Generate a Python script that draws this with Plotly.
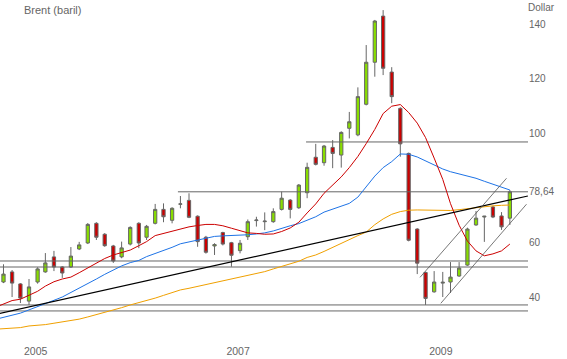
import plotly.graph_objects as go
import pandas as pd

# ---- data ----
months = pd.date_range("2004-10-01", periods=61, freq="MS")
opens = [45.6, 49.3, 44.9, 38.6, 45.6, 49.3, 54.8, 51.1, 51.1, 57.7,
         59.9, 67.1, 63.1, 58.8, 54.8, 59.5, 67.1, 62.0, 67.1, 72.2,
         68.2, 74.1, 75.5, 69.7, 62.0, 58.8, 63.7, 60.0, 57.1, 62.2,
         68.1, 67.7, 67.7, 72.2, 75.6, 72.8, 78.3, 91.3, 89.3, 94.9,
         92.1, 101.9, 99.5, 110.7, 126.1, 143.0, 122.5, 109.2, 92.7, 65.0,
         49.1, 42.0, 45.2, 45.6, 47.8, 51.8, 66.5, 69.4, 73.1, 69.8,
         69.0]
highs = [52.1, 50.0, 45.2, 46.7, 51.0, 56.2, 57.0, 51.4, 58.4, 60.3,
         67.2, 67.5, 63.5, 59.2, 60.4, 66.0, 67.5, 66.5, 74.2, 74.4,
         73.0, 77.1, 78.1, 70.0, 62.5, 59.8, 64.0, 60.3, 61.0, 68.5,
         69.5, 71.1, 72.6, 78.7, 76.0, 81.5, 89.3, 96.2, 95.8, 97.6,
         100.8, 107.9, 116.9, 132.4, 141.6, 145.2, 124.3, 109.6, 93.0, 65.3,
         49.4, 49.6, 49.3, 52.9, 52.9, 65.5, 71.6, 69.8, 73.5, 71.2,
         79.3]
lows = [45.2, 40.1, 37.9, 37.2, 45.0, 49.0, 49.6, 47.1, 50.8, 57.3,
        59.5, 61.0, 58.5, 52.6, 54.3, 59.0, 58.0, 61.0, 66.7, 67.5,
        67.1, 72.6, 69.0, 58.5, 56.0, 55.5, 59.0, 51.2, 56.1, 61.0,
        65.9, 64.6, 67.3, 71.8, 68.9, 72.4, 76.3, 88.3, 88.2, 87.3,
        87.5, 98.2, 99.0, 110.3, 120.8, 121.4, 111.1, 91.5, 60.5, 48.5,
        37.2, 41.7, 40.1, 41.6, 47.5, 51.5, 66.2, 60.3, 69.0, 64.7,
        66.5]
closes = [48.5, 45.2, 39.7, 43.8, 50.4, 52.6, 51.1, 48.9, 55.1, 59.2,
          66.7, 62.0, 58.9, 53.3, 58.1, 65.6, 59.9, 66.0, 72.2, 69.5,
          72.6, 74.2, 69.3, 60.4, 56.5, 59.3, 59.5, 55.4, 59.8, 67.7,
          68.3, 67.9, 71.4, 76.3, 72.2, 81.1, 87.6, 88.7, 95.4, 92.7,
          100.4, 104.3, 113.5, 126.1, 141.2, 123.9, 113.5, 96.2, 60.9, 52.5,
          39.6, 45.6, 45.5, 47.4, 50.7, 65.0, 69.0, 69.7, 69.4, 65.8,
          78.64]

ma_dates = pd.date_range("2004-09-01", periods=62, freq="MS")
ma_red = [36.3, 37.5, 38.8, 39.3, 40.7, 42.2, 44.1, 45.7, 46.7, 47.4,
          49.0, 50.8, 52.6, 54.2, 55.5, 56.5, 57.3, 58.9, 60.4, 62.6,
          63.4, 64.0, 64.9, 65.8, 66.3, 66.7, 66.7, 66.2, 65.3, 64.3,
          63.6, 63.4, 63.1, 63.2, 64.1, 65.4, 67.5, 70.9, 74.2, 78.1,
          81.0, 84.1, 87.5, 91.6, 96.3, 101.5, 107.3, 110.0, 110.6, 107.7,
          103.8, 98.5, 91.0, 83.2, 74.3, 66.4, 60.6, 57.0, 55.2, 55.9,
          57.0, 59.5]
ma_blue = [31.9, 32.6, 33.3, 34.2, 35.4, 36.7, 37.8, 38.9, 40.1, 41.7,
           43.4, 45.0, 46.7, 48.4, 50.0, 51.5, 52.7, 53.5, 54.9, 56.0,
           57.2, 58.3, 59.6, 60.3, 61.0, 61.8, 62.3, 62.5, 62.6, 62.7,
           62.9, 63.2, 63.6, 64.3, 65.3, 66.2, 67.0, 68.1, 69.5, 71.2,
           72.3, 73.2, 74.4, 76.7, 80.6, 84.4, 87.5, 89.7, 92.5, 92.4,
           91.4, 89.9, 88.4, 87.0, 86.0, 85.2, 84.4, 83.6, 82.5, 81.5,
           80.3, 79.3]
ma_orange = [28.3, 28.5, 28.7, 28.9, 29.5, 29.7, 30.0, 30.5, 31.0, 31.5,
             32.0, 32.8, 33.6, 34.4, 35.3, 36.2, 37.2, 38.0, 38.8, 39.7,
             40.7, 41.8, 42.7, 43.3, 44.0, 44.6, 45.3, 45.9, 46.6, 47.3,
             47.9, 48.5, 49.4, 50.4, 51.4, 52.4, 53.2, 54.6, 55.5, 56.8,
             58.3, 59.7, 61.4, 62.6, 63.9, 66.6, 68.7, 70.4, 71.4, 71.9,
             72.0, 72.0, 71.9, 71.8, 71.8, 72.1, 72.5, 72.9, 73.2, 73.5,
             73.7, 73.8]

# trend line and price channel
trend_dates = ["2004-09-18", "2009-12-05"]
trend_values = [34.1, 77.1]
channel_up_dates = ["2008-11-11", "2009-09-19"]
channel_up_values = [47.3, 83.6]
channel_low_dates = ["2009-01-25", "2009-11-30"]
channel_low_values = [37.8, 74.1]

# horizontal support / resistance levels
level_values = [96.9, 78.64, 53.3, 51.1, 37.2, 35.0]
level_starts = ["2007-09-27", "2006-06-22", "2004-09-18", "2004-09-18",
                "2004-09-18", "2004-09-18"]

x_range = ["2004-09-18 10:00", "2009-12-05 10:00"]
y_range = [26.19, 148.9]
y_ticks = [40, 60, 78.64, 100, 120, 140]
y_ticktext = ["40", "60", "78,64", "100", "120", "140"]
x_ticks = ["2005-01-25", "2007-01-25", "2009-01-25"]
x_ticktext = ["2005", "2007", "2009"]

GREY = "#666666"
fig = go.Figure()

for lv, st in zip(level_values, level_starts):
    fig.add_trace(go.Scatter(x=[st, x_range[1]], y=[lv, lv], mode="lines",
                             line=dict(color=GREY, width=1), hoverinfo="skip"))

fig.add_trace(go.Candlestick(
    x=months, open=opens, high=highs, low=lows, close=closes,
    increasing=dict(fillcolor="#88DD00", line=dict(color=GREY, width=1)),
    decreasing=dict(fillcolor="#CC0000", line=dict(color=GREY, width=1)),
    whiskerwidth=0,
))

fig.add_trace(go.Scatter(x=ma_dates, y=ma_orange, mode="lines",
                         line=dict(color="#F0A000", width=1)))
fig.add_trace(go.Scatter(x=ma_dates, y=ma_blue, mode="lines",
                         line=dict(color="#1E73E6", width=1)))
fig.add_trace(go.Scatter(x=ma_dates, y=ma_red, mode="lines",
                         line=dict(color="#CC0000", width=1)))
fig.add_trace(go.Scatter(x=trend_dates, y=trend_values, mode="lines",
                         line=dict(color="#000000", width=1.2)))
fig.add_trace(go.Scatter(x=channel_up_dates, y=channel_up_values, mode="lines",
                         line=dict(color="#555555", width=0.8)))
fig.add_trace(go.Scatter(x=channel_low_dates, y=channel_low_values, mode="lines",
                         line=dict(color="#555555", width=0.8)))

fig.update_layout(
    width=567, height=359,
    margin=dict(l=0, r=39, t=0, b=24),
    paper_bgcolor="white", plot_bgcolor="white",
    showlegend=False,
    boxgap=0.4, boxgroupgap=0.3,
    font=dict(family="Liberation Sans, Arial, sans-serif", color=GREY, size=10),
    xaxis=dict(type="date", range=x_range, showgrid=False, zeroline=False,
               showline=False, ticks="", tickvals=x_ticks, ticktext=x_ticktext,
               tickfont=dict(size=10.5, color=GREY), ticklabelstandoff=8,
               rangeslider=dict(visible=False)),
    yaxis=dict(side="right", range=y_range, showgrid=False, zeroline=False,
               showline=False, ticks="", tickvals=y_ticks, ticktext=y_ticktext,
               tickfont=dict(size=10, color=GREY)),
    annotations=[
        dict(text="Brent (baril)", xref="paper", yref="paper", x=0.042, y=0.970,
             xanchor="left", yanchor="middle", showarrow=False,
             font=dict(size=11, color=GREY)),
        dict(text="Dollar", xref="paper", yref="paper", x=0.996, y=0.978,
             xanchor="left", yanchor="middle", showarrow=False,
             font=dict(size=10, color=GREY)),
    ],
)

fig.write_html("out.html", config={"displayModeBar": False},
               post_script="document.body.style.margin='0';document.body.style.overflow='hidden';")
